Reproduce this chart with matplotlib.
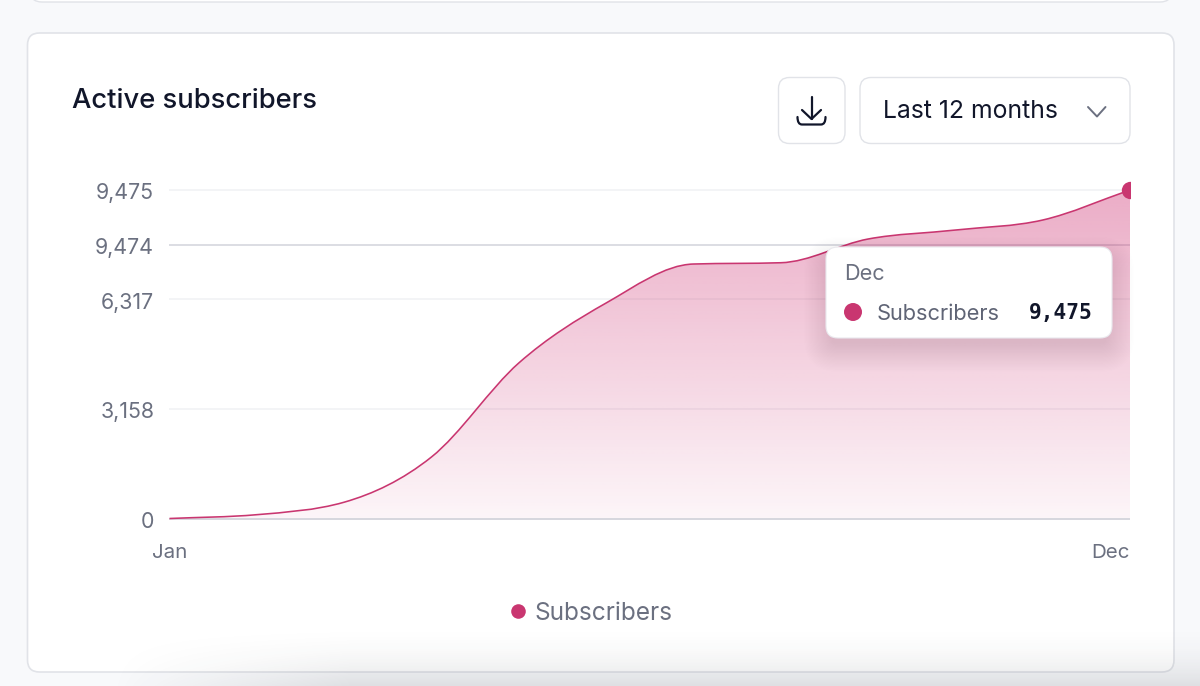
import numpy as np
import matplotlib
matplotlib.use("Agg")
import matplotlib.pyplot as plt
from matplotlib.patches import FancyBboxPatch, Circle, PathPatch
from matplotlib.path import Path
from matplotlib.lines import Line2D
from matplotlib.transforms import ScaledTranslation

plt.rcParams["font.family"] = ["Inter", "DejaVu Sans"]

months = ["Jan", "Feb", "Mar", "Apr", "May", "Jun", "Jul", "Aug", "Sep", "Oct", "Nov", "Dec"]
subscribers = [0, 110, 470, 1774, 4485, 6215, 7340, 7377, 8061, 8320, 8609, 9475]
tick_values = [0, 3158, 6317, 7894, 9475]
tick_labels = ["0", "3,158", "6,317", "9,474", "9,475"]

PINK = "#c93670"
GREY = "#6b7080"
DARK = "#11162a"
EDGE = "#e1e3e8"


def monotone_path(x, y):
    # same idea as d3 curveMonotoneX : bezier segments through the points
    x = np.asarray(x, float)
    y = np.asarray(y, float)
    h = np.diff(x)
    s = np.diff(y) / h
    m = np.zeros(len(x))
    for i in range(1, len(x) - 1):
        if s[i - 1] * s[i] > 0:
            p = (s[i - 1] * h[i] + s[i] * h[i - 1]) / (h[i - 1] + h[i])
            m[i] = min(abs(p), 2 * abs(s[i - 1]), 2 * abs(s[i]))
    m[0] = s[0]
    m[-1] = s[-1]
    verts = [(x[0], y[0])]
    codes = [Path.MOVETO]
    for i in range(len(x) - 1):
        verts += [(x[i] + h[i] / 3, y[i] + m[i] * h[i] / 3),
                  (x[i + 1] - h[i] / 3, y[i + 1] - m[i + 1] * h[i] / 3),
                  (x[i + 1], y[i + 1])]
        codes += [Path.CURVE4] * 3
    return verts, codes


W, H = 1200, 686
fig = plt.figure(figsize=(12, 6.86), dpi=100, facecolor="#f8f9fb")

# background layer in pixel coordinates : cards
bg = fig.add_axes([0, 0, 1, 1], zorder=0)
bg.set_xlim(0, W)
bg.set_ylim(H, 0)
bg.axis("off")


def box(ax, x0, y0, x1, y1, r, fc="white", ec=EDGE, lw=1.0, **kw):
    p = FancyBboxPatch((x0, y0), x1 - x0, y1 - y0, boxstyle=f"round,pad=0,rounding_size={r}",
                       fc=fc, ec=ec, lw=lw, **kw)
    ax.add_patch(p)
    return p


box(bg, 30, -30, 1172, 2, 12)
box(bg, 27.5, 33, 1174, 672, 12, lw=1.2)

# chart : pixel box x 169.5-1130, zero at y=518.5, 9475 at y=190
left, right, y0, y9, top, bottom = 169.5, 1130, 518.5, 190, 170, 532
per_px = 9475 / (y0 - y9)
ax = fig.add_axes([left / W, 1 - bottom / H, (right - left) / W, (bottom - top) / H], zorder=1)
ax.patch.set_alpha(0)
for sp in ax.spines.values():
    sp.set_visible(False)

xs = np.arange(len(months))
for v in [3158, 6317, 9475]:
    ax.axhline(v, color="#f1f2f5", lw=1.2, zorder=1)
ax.axhline(7894, color="#d6d7de", lw=1.2, zorder=1)

verts, codes = monotone_path(xs, subscribers)
area = Path(verts + [(xs[-1], 0), (xs[0], 0), (xs[0], 0)],
            codes + [Path.LINETO, Path.LINETO, Path.CLOSEPOLY])
clip = PathPatch(area, transform=ax.transData, fc="none", ec="none")
ax.add_patch(clip)

grad = np.zeros((256, 2, 4))
grad[..., :3] = matplotlib.colors.to_rgb("#d03a78")
grad[..., 3] = np.linspace(0.42, 0.05, 256)[:, None]
im = ax.imshow(grad, extent=[xs[0], xs[-1], 0, 9475], aspect="auto", origin="upper", zorder=2)
im.set_clip_path(clip)

ax.add_patch(PathPatch(Path(verts, codes), fc="none", ec=PINK, lw=1.15, zorder=3))
ax.axhline(0, color="#cfd0d8", lw=1.2, zorder=2.5)
ax.plot(xs[-1], subscribers[-1], "o", color=PINK, ms=12.5, mec="none", zorder=4)

ax.set_xlim(xs[0], xs[-1])
ax.set_ylim((y0 - bottom) * per_px, (y0 - top) * per_px)
ax.set_yticks(tick_values, tick_labels)
ax.set_xticks([xs[0], xs[-1]], [months[0], months[-1]])
ax.tick_params(length=0, labelcolor=GREY)
ax.tick_params(axis="y", pad=11, labelsize=15.4)
ax.tick_params(axis="x", pad=9, labelsize=14.8)
ax.get_xticklabels()[-1].set_ha("right")
# the y labels sit a little under their lines
nudge = ScaledTranslation(0, -1 / 72, fig.dpi_scale_trans)
for t in ax.get_yticklabels():
    t.set_transform(t.get_transform() + nudge)

ax.legend(handles=[Line2D([], [], marker="o", ls="", color=PINK, ms=10.5, mec="none", label="Subscribers")],
          loc="center", bbox_to_anchor=(588 / W, 1 - 613 / H), bbox_transform=fig.transFigure,
          frameon=False, fontsize=17.6, labelcolor=GREY, handletextpad=0.1, handlelength=1.2)

# top layer : title, controls, tooltip, shadow
ui = fig.add_axes([0, 0, 1, 1], zorder=2)
ui.set_xlim(0, W)
ui.set_ylim(H, 0)
ui.axis("off")
ui.patch.set_alpha(0)

ui.text(72, 100.5, "Active subscribers", fontsize=19.7, color=DARK, va="center", ha="left", fontweight="medium")

box(ui, 778.5, 77.5, 845, 143.5, 11)
box(ui, 860, 77.5, 1130, 143.5, 11)
ui.text(883, 112, "Last 12 months", fontsize=17.8, color=DARK, va="center", ha="left")
ui.plot([1088, 1097, 1105.5], [107, 116.5, 107], color=GREY, lw=1.4, solid_capstyle="round", solid_joinstyle="round")
# download icon
ui.plot([811.5, 811.5], [97, 118.5], color=DARK, lw=1.6, solid_capstyle="round")
ui.plot([802, 811.5, 821], [110, 119, 110], color=DARK, lw=1.6, solid_capstyle="round", solid_joinstyle="round")
tray = Path([(797.5, 117), (797.5, 124.5), (802, 124.5), (821, 124.5), (825.5, 124.5), (825.5, 117)],
            [Path.MOVETO, Path.CURVE3, Path.CURVE3, Path.LINETO, Path.CURVE3, Path.CURVE3])
ui.add_patch(PathPatch(tray, fc="none", ec=DARK, lw=1.6, capstyle="round", joinstyle="round"))

# tooltip with soft shadow
for i in range(24):
    g = 22 - i * 1.2
    box(ui, 826 - g, 247 + 12 - g, 1112 + g, 338 + 12 + g, 12 + g, fc="#2a1020", ec="none", lw=0, alpha=0.004)
box(ui, 826, 247, 1112, 338, 12, ec="#e9e9ee", lw=0.8)
ui.text(844.5, 274.5, "Dec", fontsize=15.6, color=GREY, va="center", ha="left")
ui.add_patch(Circle((853, 312), 9, fc=PINK, ec="none"))
ui.text(877, 313.5, "Subscribers", fontsize=15.7, color="#5f6475", va="center", ha="left")
ui.text(1093, 312.5, "9,475", fontsize=15.3, color=DARK, va="center", ha="right",
        family="DejaVu Sans Mono", fontweight="bold")

# grey shadow along the bottom edge of the picture
sy, sx = np.mgrid[620:686, 0:W]
shade = np.zeros(sy.shape + (4,))
fade = np.clip((sx - 110) / 240.0, 0, 1)
shade[..., :3] = (0.18, 0.2, 0.24)
shade[..., 3] = 0.13 * ((sy - 620) / 66.0) ** 2 * fade
ui.imshow(shade, extent=[0, W, 686, 620], aspect="auto", origin="upper", zorder=5)
ui.set_xlim(0, W)
ui.set_ylim(H, 0)

fig.savefig("out.png", dpi=100, facecolor=fig.get_facecolor())
